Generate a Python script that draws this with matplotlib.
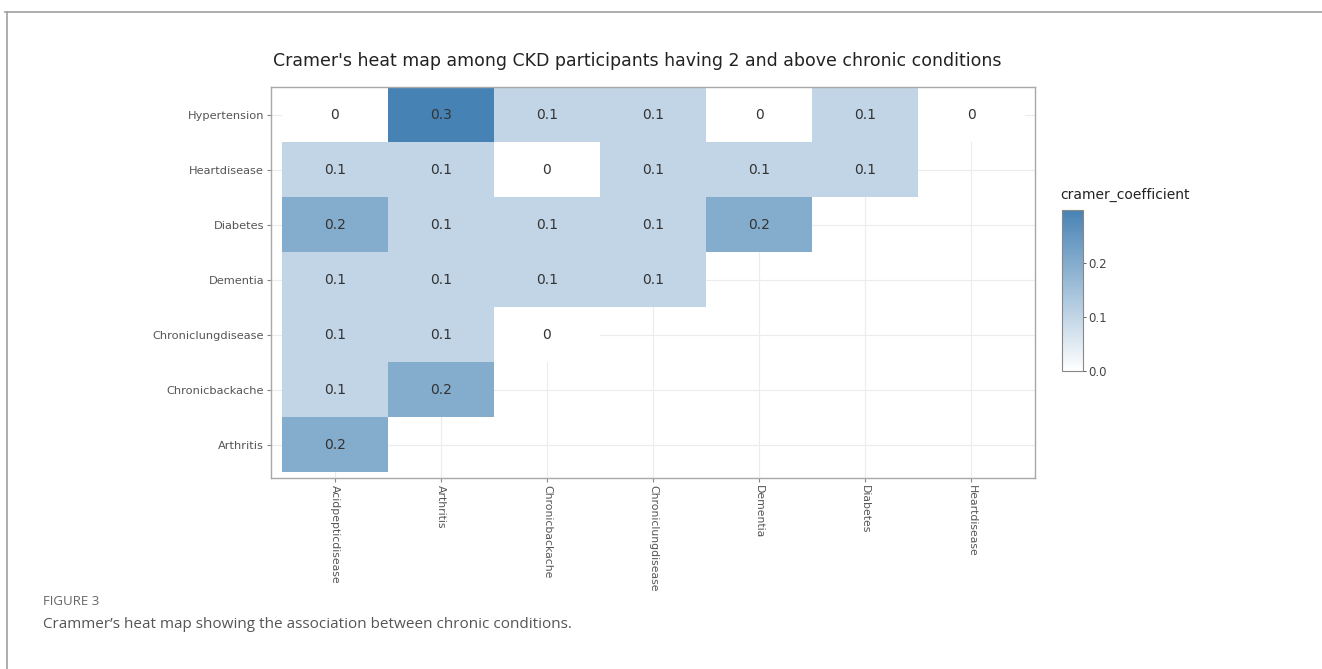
import numpy as np
import matplotlib.pyplot as plt
from matplotlib.colors import LinearSegmentedColormap
from matplotlib.lines import Line2D

# conditions
cols = ['Acidpepticdisease', 'Arthritis', 'Chronicbackache', 'Chroniclungdisease',
        'Dementia', 'Diabetes', 'Heartdisease']
rows = ['Hypertension', 'Heartdisease', 'Diabetes', 'Dementia',
        'Chroniclungdisease', 'Chronicbackache', 'Arthritis']

nan = np.nan
hypertension = [0, 0.3, 0.1, 0.1, 0, 0.1, 0]
heartdisease = [0.1, 0.1, 0, 0.1, 0.1, 0.1, nan]
diabetes = [0.2, 0.1, 0.1, 0.1, 0.2, nan, nan]
dementia = [0.1, 0.1, 0.1, 0.1, nan, nan, nan]
lungdisease = [0.1, 0.1, 0, nan, nan, nan, nan]
backache = [0.1, 0.2, nan, nan, nan, nan, nan]
arthritis = [0.2, nan, nan, nan, nan, nan, nan]

cbar_ticks = [0.0, 0.1, 0.2]

# matrix with bottom row first (so Hypertension ends up on top)
vals = np.array([arthritis, backache, lungdisease, dementia,
                 diabetes, heartdisease, hypertension])
row_labels = rows[::-1]

cmap = LinearSegmentedColormap.from_list('cramer', ['#ffffff', '#4682b4'])

fig = plt.figure(figsize=(13.22, 6.69), dpi=100)

# journal frame lines
fig.add_artist(Line2D([0.004, 1.0], [0.982, 0.982], color='#a0a0a0', lw=1.2))
fig.add_artist(Line2D([0.005, 0.005], [0.0, 0.982], color='#a0a0a0', lw=1.2))

ax = fig.add_axes([0.205, 0.2855, 0.578, 0.5845])
m = np.ma.masked_invalid(vals)
mesh = ax.pcolormesh(np.arange(8) - 0.5, np.arange(8) - 0.5, m,
                     cmap=cmap, vmin=0, vmax=0.3, zorder=2)

for i in range(vals.shape[0]):
    for j in range(vals.shape[1]):
        v = vals[i, j]
        if np.isnan(v):
            continue
        txt = '0' if v == 0 else f'{v:.1f}'
        ax.text(j, i, txt, ha='center', va='center', fontsize=10,
                color='#333333', zorder=3)

ax.set_xlim(-0.6, 6.6)
ax.set_ylim(-0.6, 6.5)
ax.set_xticks(range(len(cols)))
ax.set_xticklabels(cols, rotation=-90, fontsize=7.8, color='#555555')
ax.set_yticks(range(len(row_labels)))
ax.set_yticklabels(row_labels, fontsize=8.2, color='#555555')
ax.tick_params(length=3, width=0.8, color='#888888', pad=2)
ax.grid(True, color='#ececec', lw=0.8, zorder=0)
ax.set_axisbelow(True)
for s in ax.spines.values():
    s.set_color('#a8a8a8')
    s.set_linewidth(1.0)

ax.set_title("Cramer's heat map among CKD participants having 2 and above chronic conditions",
             fontsize=12.5, color='#222222', pad=15, x=0.479)

cax = fig.add_axes([0.8033, 0.4454, 0.0159, 0.2407])
cb = fig.colorbar(mesh, cax=cax)
cb.set_ticks(cbar_ticks)
cb.set_ticklabels(['0.0', '0.1', '0.2'])
cax.set_ylim(0, 0.298)
cax.tick_params(labelsize=8.5, colors='#444444', length=2, width=0.6, pad=2)
cb.outline.set_edgecolor('#888888')
cax.text(-0.1, 1.05, 'cramer_coefficient', transform=cax.transAxes,
         fontsize=10, color='#222222', ha='left', va='bottom')

fig.text(0.0325, 0.1005, 'FIGURE 3', fontsize=9.5, color='#666666',
         family='Open Sans', va='center')
fig.text(0.0325, 0.067, "Crammer\u2019s heat map showing the association between chronic conditions.",
         fontsize=11, color='#555555', family='Open Sans', va='center')

fig.savefig('out.png', dpi=100)
